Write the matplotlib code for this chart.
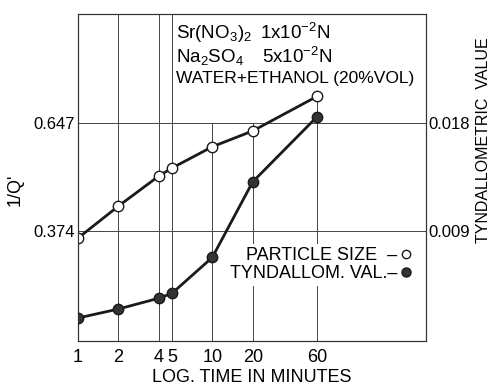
import matplotlib
matplotlib.use("Agg")
import matplotlib.pyplot as plt
from matplotlib.lines import Line2D

# time in minutes (log axis)
minutes = [1, 2, 4, 5, 10, 20, 60]
# 1/Q' (particle size), left axis
particle_size = [0.356, 0.437, 0.513, 0.533, 0.587, 0.627, 0.714]
# tyndallometric value, right axis
tyndall = [0.00175, 0.0025, 0.0034, 0.0038, 0.0068, 0.0131, 0.0185]

left_ticks = [0.374, 0.647]
right_ticks = [0.009, 0.018]
x_ticks = [1, 2, 4, 5, 10, 20, 60]

FONT = ['Liberation Sans', 'DejaVu Sans']
plt.rcParams['font.family'] = FONT
plt.rcParams['mathtext.fontset'] = 'custom'
plt.rcParams['mathtext.rm'] = 'Liberation Sans'
plt.rcParams['mathtext.it'] = 'Liberation Sans'

fig = plt.figure(figsize=(4.92, 3.86), dpi=100)
ax = fig.add_axes([78 / 492, 1 - 341 / 386, 348 / 492, 327 / 386])
ax2 = ax.twinx()

ax.set_xscale('log')
ax.set_xlim(1, 390)
ax.set_ylim(0.096, 0.9225)
# right axis aligned so 0.009 / 0.018 fall on the 0.374 / 0.647 lines
ax2.set_ylim(-0.000165, 0.02708)

# grid lines
for x in x_ticks:
    top = 1.0
    if x in (10, 20):
        top = 0.667
    elif x == 60:
        top = 0.75
    ax.axvline(x, ymax=top, color='#444444', lw=0.7, zorder=1)
for y in left_ticks:
    ax.axhline(y, color='#444444', lw=0.7, zorder=1)

ax.plot(minutes, particle_size, color='#1a1a1a', lw=2.0, marker='o', ms=7.5,
        mfc='white', mec='#1a1a1a', mew=1.0, zorder=3)
ax2.plot(minutes, tyndall, color='#1a1a1a', lw=2.0, marker='o', ms=7.5,
         mfc='#333333', mec='#1a1a1a', mew=1.0, zorder=3)

ax.set_xticks(x_ticks)
ax.set_xticklabels([str(v) for v in x_ticks])
ax.minorticks_off()
ax.set_yticks(left_ticks)
ax.set_yticklabels(['0.374', '0.647'])
ax2.set_yticks(right_ticks)
ax2.set_yticklabels(['0.009', '0.018'])

ax.tick_params(axis='x', length=0, pad=6, labelsize=13)
ax.tick_params(axis='y', length=0, pad=2, labelsize=12)
ax2.tick_params(axis='y', length=0, pad=2, labelsize=12)

for a in (ax, ax2):
    for s in a.spines.values():
        s.set_linewidth(0.8)
        s.set_color('#333333')

# composition text
fig.text(176 / 492, 1 - 33 / 386, r'Sr(NO$_3$)$_2$', fontsize=13.5, va='center')
fig.text(260 / 492, 1 - 33 / 386, r'1x10$^{-2}$N', fontsize=13.5, va='center')
fig.text(176 / 492, 1 - 57 / 386, r'Na$_2$SO$_4$', fontsize=13.5, va='center')
fig.text(262 / 492, 1 - 57 / 386, r'5x10$^{-2}$N', fontsize=13.5, va='center')
fig.text(176 / 492, 1 - 78 / 386, 'WATER+ETHANOL (20%VOL)', fontsize=12.5, va='center')

# legend: label first, then marker
handles = [
    Line2D([], [], ls='none', marker='o', ms=6, mfc='white', mec='#1a1a1a'),
    Line2D([], [], ls='none', marker='o', ms=6.5, mfc='#333333', mec='#1a1a1a'),
]
leg = ax2.legend(handles, ['PARTICLE SIZE  \u2013', 'TYNDALLOM. VAL.\u2013'],
                 loc='upper right', bbox_to_anchor=(0.995, 0.325),
                 markerfirst=False, frameon=True, fontsize=13,
                 handlelength=0.6, handletextpad=0.2, labelspacing=0.05,
                 borderpad=0.2)
leg.get_frame().set_facecolor('white')
leg.get_frame().set_edgecolor('none')
leg.get_frame().set_alpha(1)
leg.set_zorder(5)

ax.set_xlabel('LOG. TIME IN MINUTES', fontsize=13, labelpad=2)
fig.text(15 / 492, 1 - 190 / 386, "1/Q'", fontsize=13, rotation=90,
         ha='center', va='center')
fig.text(483 / 492, 1 - 140 / 386, 'TYNDALLOMETRIC  VALUE', fontsize=11.5,
         rotation=90, ha='center', va='center')

fig.savefig('out.png', dpi=100)
